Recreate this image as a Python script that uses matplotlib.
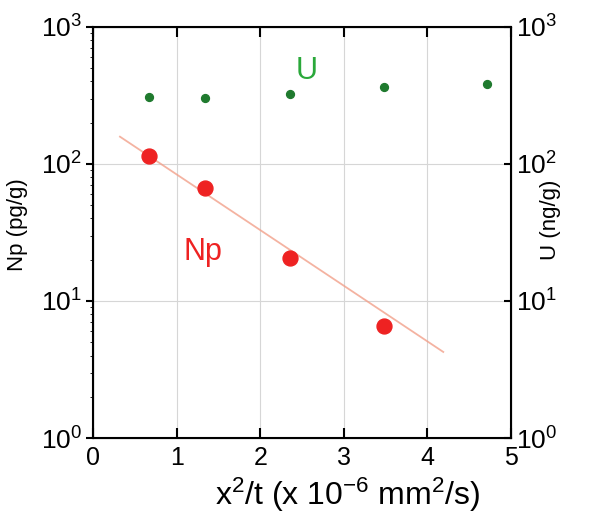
import numpy as np
import matplotlib
matplotlib.use("Agg")
import matplotlib.pyplot as plt

plt.rcParams['font.family'] = ['Liberation Sans', 'DejaVu Sans']
plt.rcParams['mathtext.fontset'] = 'custom'
plt.rcParams['mathtext.rm'] = 'Liberation Sans'
plt.rcParams['mathtext.it'] = 'Liberation Sans'
plt.rcParams['mathtext.default'] = 'regular'

# data
x_np = [0.67, 1.34, 2.36, 3.48]
np_conc = [115, 67, 20.6, 6.6]        # pg/g
x_u = [0.67, 1.34, 2.36, 3.48, 4.71]
u_conc = [309, 304, 324, 366, 380]    # ng/g
fit_x = [0.32, 4.19]
fit_np = [158, 4.25]

fig = plt.figure(figsize=(5.9, 5.16), dpi=100)
ax = fig.add_axes([0.158, 0.151, 0.708, 0.797])

ax.set_yscale('log')
ax.set_xlim(0, 5)
ax.set_ylim(1, 1000)
ax.grid(True, which='major', color='#d6d6d6', linewidth=0.8)
ax.set_axisbelow(True)

ax.plot(fit_x, fit_np, color='#f2a08a', linewidth=1.3, alpha=0.8)
ax.scatter(x_np, np_conc, s=115, color='#ee2222', zorder=3)
ax.scatter(x_u, u_conc, s=32, color='#1f7a2e', zorder=3)

ax.text(2.42, 417, 'U', color='#2aa83a', fontsize=22)
ax.text(1.08, 20, 'Np', color='#ee2222', fontsize=22)

ax.set_xticks([0, 1, 2, 3, 4, 5])
ax.tick_params(axis='x', which='both', direction='in', top=True, labelsize=18, length=7, width=1.5, pad=6)
ax.tick_params(axis='y', which='major', direction='out', labelsize=19, length=5, width=1.5, pad=3)
ax.tick_params(axis='y', which='minor', left=False, right=False)
for s in ax.spines.values():
    s.set_linewidth(1.5)

ax.set_ylabel('Np (pg/g)', fontsize=16)
ax.yaxis.set_label_coords(-0.155, 0.52)
ax.set_xlabel('x$^2$/t (x 10$^{-6}$ mm$^2$/s)', fontsize=23)
ax.xaxis.set_label_coords(0.61, -0.092)

ax2 = ax.twinx()
ax2.set_yscale('log')
ax2.set_ylim(1, 1000)
ax2.tick_params(axis='y', which='major', direction='in', labelsize=19, length=5, width=1.5, pad=4)
ax2.tick_params(axis='y', which='minor', right=False)
ax2.set_ylabel('U (ng/g)', fontsize=16, rotation=90)
ax2.yaxis.set_label_coords(1.069, 0.53)

fig.savefig('out.png', dpi=100)
